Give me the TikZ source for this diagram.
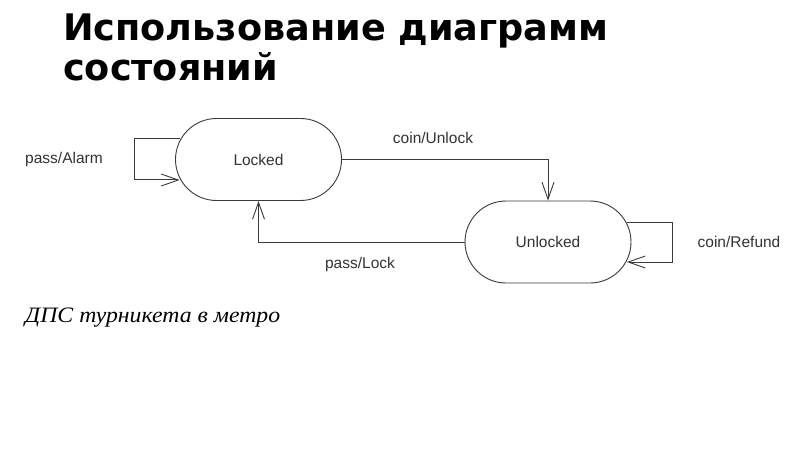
\documentclass[tikz,border=0pt]{standalone}
\usepackage{fontspec}
\setmainfont{Liberation Sans}
\newfontfamily\titlefont{DejaVu Sans}
\newfontfamily\capfont{Liberation Serif}
\usetikzlibrary{shapes.misc,arrows.meta,calc}
\definecolor{linegray}{HTML}{3A3A3A}
\definecolor{textgray}{HTML}{333333}
\tikzset{
  statebox/.style={rounded rectangle, draw=linegray, line width=0.9pt,
    minimum width=166pt, minimum height=82pt, inner sep=0pt,
    text=textgray, font=\fontsize{15.5}{18}\selectfont},
  conn/.style={draw=linegray, line width=1pt,
    -{Straight Barb[length=17pt,width=12pt,line width=0.9pt]}},
  lbl/.style={text=textgray, font=\fontsize{15.5}{18}\selectfont, inner sep=0pt},
  titletext/.style={anchor=base west, inner sep=0pt,
    font=\titlefont\bfseries\fontsize{36.6}{40}\selectfont},
}
\begin{document}
\begin{tikzpicture}[x=1pt,y=-1pt]
\useasboundingbox[fill=white] (0,0) rectangle (800,449);
% title
\node[titletext] (t1) at (63,41) {Использование диаграмм};
\node[titletext] (t2) at (63,81) {состояний};
% states
\node[statebox] (locked) at (258.5,159.5) {Locked};
\node[statebox] (unlocked) at (548,242) {Unlocked};
% helper coordinates
\coordinate (la) at (134,139);
\coordinate (lb) at (134,180);
\coordinate (ua) at (548,160);
\coordinate (ub) at (258.5,242);
\coordinate (ra) at (672,222);
\coordinate (rb) at (672,262);
% coin/Unlock
\draw[conn] (locked.east |- ua) -- (ua) -- (unlocked.north);
% pass/Lock
\draw[conn] (unlocked.west) -- (ub) -- (locked.south);
% self loop Locked
\draw[conn] ($(locked.west)+(4.5,-20.5)$) -- (la) -- (lb) -- ($(locked.west)+(4.5,20.5)$);
% self loop Unlocked
\draw[conn] ($(unlocked.east)+(-4.5,-20)$) -- (ra) -- (rb) -- ($(unlocked.east)+(-4.5,20)$);
% labels
\node[lbl] (l1) at (64,159) {pass/Alarm};
\node[lbl] (l2) at (433,138) {coin/Unlock};
\node[lbl] (l3) at (360,264) {pass/Lock};
\node[lbl] (l4) at (739,242) {coin/Refund};
% caption
\node[anchor=base west, inner sep=0pt, xscale=1.08, font=\capfont\itshape\fontsize{22}{24}\selectfont] (cap) at (25,322) {ДПС турникета в метро};
\end{tikzpicture}
\end{document}
